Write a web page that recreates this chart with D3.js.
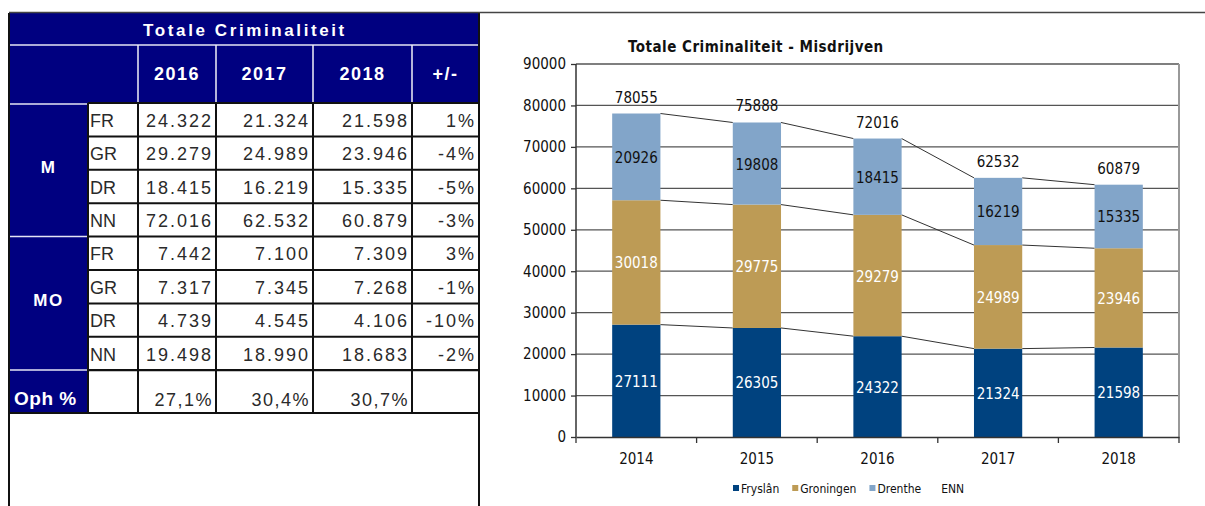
<!DOCTYPE html>
<html>
<head>
<meta charset="utf-8">
<script src="https://cdn.jsdelivr.net/npm/d3@7"></script>
<style>
  body { margin: 0; background: #fff; }
  svg { display: block; }
</style>
</head>
<body>
<svg width="1205" height="506"></svg>
<script>
// ---- table data ----
var tableTitle = "Totale Criminaliteit";
var tableHeads = ["2016", "2017", "2018", "+/-"];
var groups = ["M", "MO"];
var regions = ["FR", "GR", "DR", "NN"];
var mValues = [
  ["24.322", "21.324", "21.598", "1%"],
  ["29.279", "24.989", "23.946", "-4%"],
  ["18.415", "16.219", "15.335", "-5%"],
  ["72.016", "62.532", "60.879", "-3%"]
];
var moValues = [
  ["7.442", "7.100", "7.309", "3%"],
  ["7.317", "7.345", "7.268", "-1%"],
  ["4.739", "4.545", "4.106", "-10%"],
  ["19.498", "18.990", "18.683", "-2%"]
];
var ophLabel = "Oph %";
var ophValues = ["27,1%", "30,4%", "30,7%", ""];

// ---- chart data ----
var chartTitle = "Totale Criminaliteit - Misdrijven";
var years = ["2014", "2015", "2016", "2017", "2018"];
var fryslan = [27111, 26305, 24322, 21324, 21598];
var groningen = [30018, 29775, 29279, 24989, 23946];
var drenthe = [20926, 19808, 18415, 16219, 15335];
var enn = [78055, 75888, 72016, 62532, 60879];
var seriesNames = ["Fryslân", "Groningen", "Drenthe", "ENN"];
var yTicks = [0, 10000, 20000, 30000, 40000, 50000, 60000, 70000, 80000, 90000];

var navy = "#000080";
var colors = ["#00427f", "#bd9b55", "#82a5c9"];

var svg = d3.select("svg");

// =============== TABLE ===============
var tcol = [9, 88, 138, 216, 313, 412, 479];
var ttop = 13, tsub = 45, thead = 103, rowH = 33.4, ophTop = 370, ophBot = 413;
var tfont = "'Liberation Sans', Arial, sans-serif";
var tab = svg.append("g").attr("class", "table");

// blue areas
tab.append("rect").attr("x", tcol[0]).attr("y", ttop).attr("width", tcol[6] - tcol[0]).attr("height", thead - ttop).attr("fill", navy);
tab.append("rect").attr("x", tcol[0]).attr("y", thead).attr("width", tcol[1] - tcol[0]).attr("height", ophBot - thead).attr("fill", navy);

// white separators in blue areas
tab.append("line").attr("x1", tcol[0]).attr("x2", tcol[6]).attr("y1", tsub).attr("y2", tsub)
  .attr("stroke", "#e4e4f4").attr("stroke-width", 1.5);
tcol.slice(2, 6).forEach(function(xx) {
  tab.append("line").attr("x1", xx).attr("x2", xx).attr("y1", tsub).attr("y2", thead)
    .attr("stroke", "#f0f0f8").attr("stroke-width", 1.5);
});
[thead + 1, thead + rowH * 4, ophTop].forEach(function(yy) {
  tab.append("line").attr("x1", tcol[0]).attr("x2", tcol[1] - 1).attr("y1", yy).attr("y2", yy)
    .attr("stroke", "#e4e4f4").attr("stroke-width", 1.5);
});

// title
tab.append("text").attr("x", (tcol[0] + tcol[6]) / 2 + 1).attr("y", 36)
  .attr("text-anchor", "middle").attr("fill", "#fff")
  .style("font", "bold 17px " + tfont).style("letter-spacing", "2.6px")
  .text(tableTitle);

// header
tableHeads.forEach(function(h, i) {
  tab.append("text").attr("x", (tcol[i + 2] + tcol[i + 3]) / 2).attr("y", 80)
    .attr("text-anchor", "middle").attr("fill", "#fff")
    .style("font", "bold 18px " + tfont).style("letter-spacing", "1.5px")
    .text(h);
});

// body rows
var rows = [];
mValues.forEach(function(v, i) { rows.push({ label: regions[i], vals: v }); });
moValues.forEach(function(v, i) { rows.push({ label: regions[i], vals: v }); });

rows.forEach(function(r, i) {
  var y0 = thead + i * rowH;
  tab.append("text").attr("x", tcol[1] + 2).attr("y", y0 + rowH / 2 + 7)
    .attr("fill", "#2a2a2a").style("font", "18px " + tfont)
    .text(r.label);
  r.vals.forEach(function(v, j) {
    tab.append("text").attr("x", tcol[j + 3] - 3).attr("y", y0 + rowH / 2 + 7)
      .attr("text-anchor", "end").attr("fill", "#2a2a2a")
      .style("font", "18px " + tfont).style("letter-spacing", "2px")
      .text(v);
  });
});
ophValues.forEach(function(v, j) {
  tab.append("text").attr("x", tcol[j + 3] - 3).attr("y", ophBot - 7)
    .attr("text-anchor", "end").attr("fill", "#2a2a2a")
    .style("font", "18px " + tfont).style("letter-spacing", "1.5px")
    .text(v);
});

// group labels
groups.forEach(function(g, i) {
  tab.append("text").attr("x", (tcol[0] + tcol[1]) / 2).attr("y", thead + rowH * (i * 4 + 2) + 3)
    .attr("text-anchor", "middle").attr("fill", "#fff")
    .style("font", "bold 17px " + tfont).style("letter-spacing", "1.5px")
    .text(g);
});
tab.append("text").attr("x", 14).attr("y", ophBot - 8)
  .attr("fill", "#fff").style("font", "bold 19px " + tfont).style("letter-spacing", "0.5px")
  .text(ophLabel);

// black grid lines of the white cells
var lines = [];
for (var i = 0; i <= 9; i++) {
  var ly = i < 9 ? thead + i * rowH : ophBot;
  lines.push([tcol[1], ly, tcol[6], ly]);
}
lines.push([tcol[1], ophTop, tcol[6], ophTop]);
tcol.slice(1, 6).forEach(function(xx) { lines.push([xx, thead, xx, ophBot]); });
lines.push([tcol[0], ophBot, tcol[6], ophBot]);
lines.push([tcol[0], ttop, tcol[0], 506]);
lines.push([tcol[6], ttop, tcol[6], 506]);
tab.selectAll("line.grid").data(lines).enter().append("line").attr("class", "grid")
  .attr("x1", function(d) { return d[0]; }).attr("y1", function(d) { return d[1]; })
  .attr("x2", function(d) { return d[2]; }).attr("y2", function(d) { return d[3]; })
  .attr("stroke", "#111").attr("stroke-width", 2);

// top border running across both panels
svg.append("line").attr("x1", 9).attr("x2", 1205).attr("y1", 12.5).attr("y2", 12.5)
  .attr("stroke", "#444").attr("stroke-width", 1.5);

// =============== CHART ===============
var cfont = "'Liberation Sans Narrow', 'Arial Narrow', 'DejaVu Sans Condensed', sans-serif";
var pLeft = 576, pRight = 1179, pTop = 64, pBottom = 437;

var x = d3.scaleBand().domain(years).range([pLeft, pRight]).paddingInner(0.6).paddingOuter(0.3);
var y = d3.scaleLinear().domain([0, 90000]).range([pBottom, pTop]);

var chart = svg.append("g").attr("class", "chart");

// gridlines
chart.selectAll("line.hgrid").data(yTicks.slice(1)).enter().append("line").attr("class", "hgrid")
  .attr("x1", pLeft).attr("x2", pRight)
  .attr("y1", function(d) { return y(d); }).attr("y2", function(d) { return y(d); })
  .attr("stroke", "#555").attr("stroke-width", 1.3);
chart.append("line").attr("x1", pRight).attr("x2", pRight).attr("y1", pTop).attr("y2", pBottom)
  .attr("stroke", "#999").attr("stroke-width", 2);

// stacked data
var table = years.map(function(yr, i) {
  return { year: yr, "Fryslân": fryslan[i], "Groningen": groningen[i], "Drenthe": drenthe[i], total: enn[i] };
});
var stack = d3.stack().keys(seriesNames.slice(0, 3))(table);

// connector lines between bars
stack.forEach(function(s) {
  for (var i = 0; i < s.length - 1; i++) {
    chart.append("line")
      .attr("x1", x(years[i]) + x.bandwidth()).attr("y1", y(s[i][1]))
      .attr("x2", x(years[i + 1])).attr("y2", y(s[i + 1][1]))
      .attr("stroke", "#333").attr("stroke-width", 1);
  }
});

var layers = chart.selectAll("g.layer").data(stack).enter().append("g").attr("class", "layer")
  .attr("fill", function(d, i) { return colors[i]; });

layers.selectAll("rect").data(function(d) { return d; }).enter().append("rect")
  .attr("x", function(d) { return x(d.data.year); })
  .attr("y", function(d) { return y(d[1]); })
  .attr("height", function(d) { return y(d[0]) - y(d[1]); })
  .attr("width", x.bandwidth());

layers.selectAll("text").data(function(d) { return d; }).enter().append("text")
  .attr("x", function(d) { return x(d.data.year) + x.bandwidth() / 2; })
  .attr("y", function(d) { return (y(d[0]) + y(d[1])) / 2 + 6; })
  .attr("text-anchor", "middle")
  .attr("fill", function(d) { return d3.select(this.parentNode).datum().index === 2 ? "#111" : "#fff"; })
  .style("font", "15px " + cfont)
  .text(function(d) { return d[1] - d[0]; });

// totals (ENN)
chart.selectAll("text.total").data(table).enter().append("text").attr("class", "total")
  .attr("x", function(d) { return x(d.year) + x.bandwidth() / 2; })
  .attr("y", function(d) { return y(d.total) - 11; })
  .attr("text-anchor", "middle").attr("fill", "#111")
  .style("font", "15px " + cfont)
  .text(function(d) { return d.total; });

// y axis
var yAxis = chart.append("g").attr("transform", "translate(" + pLeft + ",0)")
  .call(d3.axisLeft(y).tickValues(yTicks).tickSize(5).tickPadding(5).tickFormat(d3.format("d")));
yAxis.select(".domain").attr("stroke", "#333").attr("stroke-width", 1.5).attr("d", "M0," + pTop + "V" + pBottom);
yAxis.selectAll(".tick line").attr("stroke", "#333").attr("stroke-width", 1.3);
yAxis.selectAll("text").attr("fill", "#111").style("font", "15px " + cfont);

// x axis
var xAxis = chart.append("g").attr("transform", "translate(0," + pBottom + ")")
  .call(d3.axisBottom(x).tickSize(0).tickPadding(16));
xAxis.select(".domain").attr("stroke", "#333").attr("stroke-width", 1.5);
xAxis.selectAll("text").attr("fill", "#111").style("font", "15px " + cfont);
var edges = years.map(function(yr) { return x(yr) - x.step() * x.paddingInner() / 2; });
edges.push(pRight);
xAxis.selectAll("line.edge").data(edges).enter().append("line").attr("class", "edge")
  .attr("x1", function(d) { return d; }).attr("x2", function(d) { return d; })
  .attr("y1", 0).attr("y2", 6).attr("stroke", "#333").attr("stroke-width", 1.3);

// title
chart.append("text").attr("x", 628).attr("y", 52)
  .attr("fill", "#111").style("font", "bold 15px " + cfont).style("letter-spacing", "0.5px")
  .text(chartTitle);

// legend
var legend = chart.append("g").attr("transform", "translate(733,0)");
var lx = 0;
seriesNames.forEach(function(name, i) {
  if (i < 3) {
    legend.append("rect").attr("x", lx).attr("y", 485).attr("width", 6).attr("height", 6).attr("fill", colors[i]);
    lx += 8;
  } else {
    lx += 7;
  }
  var t = legend.append("text").attr("x", lx).attr("y", 493)
    .attr("fill", "#111").style("font", "12px " + cfont)
    .text(name);
  lx += t.node().getComputedTextLength() + 13;
});
</script>
</body>
</html>
